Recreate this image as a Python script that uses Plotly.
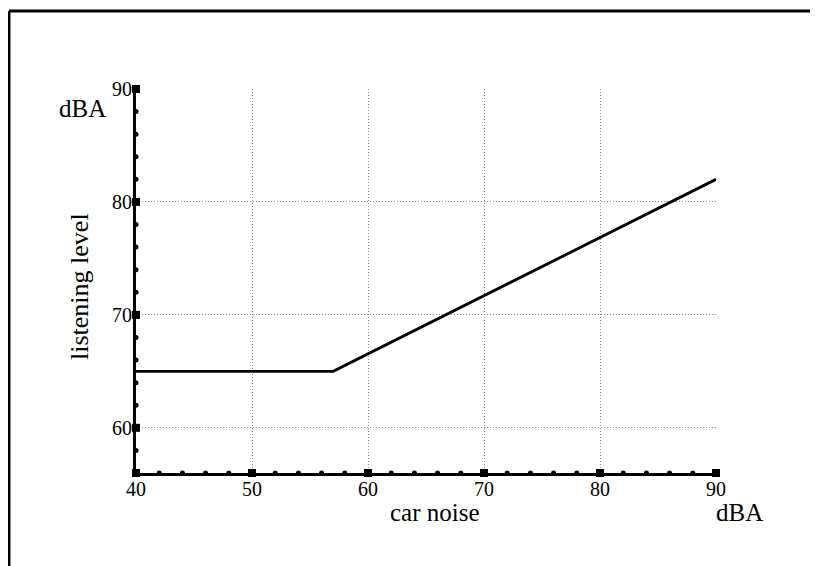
import plotly.graph_objects as go

# Data
line_x = [40, 57, 90]
line_y = [65, 65, 82]

x_major = [40, 50, 60, 70, 80, 90]
y_major = [60, 70, 80, 90]
x_minor = [42, 44, 46, 48, 52, 54, 56, 58, 62, 64, 66, 68, 72, 74, 76, 78, 82, 84, 86, 88]
y_minor = [58, 62, 64, 66, 68, 72, 74, 76, 78, 82, 84, 86, 88]

X_MIN, X_MAX = 40, 90
Y_MIN, Y_MAX = 56, 90

FONT = "Liberation Serif"

fig = go.Figure()

fig.add_trace(go.Scatter(x=line_x, y=line_y, mode="lines",
                         line=dict(color="black", width=2.8),
                         hoverinfo="skip", showlegend=False))

# tick markers on the x axis
fig.add_trace(go.Scatter(x=x_minor, y=[Y_MIN] * len(x_minor), mode="markers",
                         marker=dict(symbol="circle", size=5, color="black"),
                         cliponaxis=False, showlegend=False, hoverinfo="skip"))
fig.add_trace(go.Scatter(x=x_major, y=[Y_MIN] * len(x_major), mode="markers",
                         marker=dict(symbol="square", size=8, color="black"),
                         cliponaxis=False, showlegend=False, hoverinfo="skip"))
# tick markers on the y axis
fig.add_trace(go.Scatter(x=[X_MIN] * len(y_minor), y=y_minor, mode="markers",
                         marker=dict(symbol="circle", size=5, color="black"),
                         cliponaxis=False, showlegend=False, hoverinfo="skip"))
fig.add_trace(go.Scatter(x=[X_MIN] * len(y_major), y=y_major, mode="markers",
                         marker=dict(symbol="square", size=8, color="black"),
                         cliponaxis=False, showlegend=False, hoverinfo="skip"))

GRID = dict(showgrid=True, gridcolor="#8c8c8c", griddash="1px,2px", gridwidth=1)

fig.update_xaxes(range=[X_MIN, X_MAX], tickvals=x_major, ticktext=[str(v) for v in x_major],
                 showline=True, linecolor="black", linewidth=3, zeroline=False,
                 ticks="", ticklabelstandoff=-4,
                 tickfont=dict(family=FONT, size=20, color="black"), fixedrange=True, **GRID)
fig.update_yaxes(range=[Y_MIN, Y_MAX], tickvals=y_major, ticktext=[str(v) for v in y_major],
                 showline=True, linecolor="black", linewidth=3, zeroline=False,
                 ticks="", ticklabelstandoff=-3,
                 tickfont=dict(family=FONT, size=20, color="black"), fixedrange=True, **GRID)

LABEL_FONT = dict(family=FONT, size=25, color="black")
ANCH = dict(xref="paper", yref="paper", xanchor="center", yanchor="middle", showarrow=False)
annotations = [
    dict(text="dBA", x=-0.093, y=0.948, font=LABEL_FONT, **ANCH),
    dict(text="listening level", x=-0.0966, y=0.487, textangle=-90,
         font=dict(family=FONT, size=26, color="black"), **ANCH),
    dict(text="car noise", x=0.5155, y=-0.104, font=LABEL_FONT, **ANCH),
    dict(text="dBA", x=1.041, y=-0.104, font=LABEL_FONT, **ANCH),
]

shapes = [
    # outer frame: top and left edges
    dict(type="line", xref="paper", yref="paper", x0=-0.219, x1=1.25, y0=1.203, y1=1.203,
         line=dict(color="black", width=3)),
    dict(type="line", xref="paper", yref="paper", x0=-0.219, x1=-0.219, y0=1.203, y1=-0.27,
         line=dict(color="black", width=3)),
]

# page body has an 8px margin, so the figure is sized to fit the 818x566 window
fig.update_layout(width=810, height=558, autosize=False,
                  margin=dict(l=128, r=102, t=81, b=93),
                  plot_bgcolor="white", paper_bgcolor="white",
                  annotations=annotations, shapes=shapes, showlegend=False)

fig.write_html("out.html", config={"displayModeBar": False})
